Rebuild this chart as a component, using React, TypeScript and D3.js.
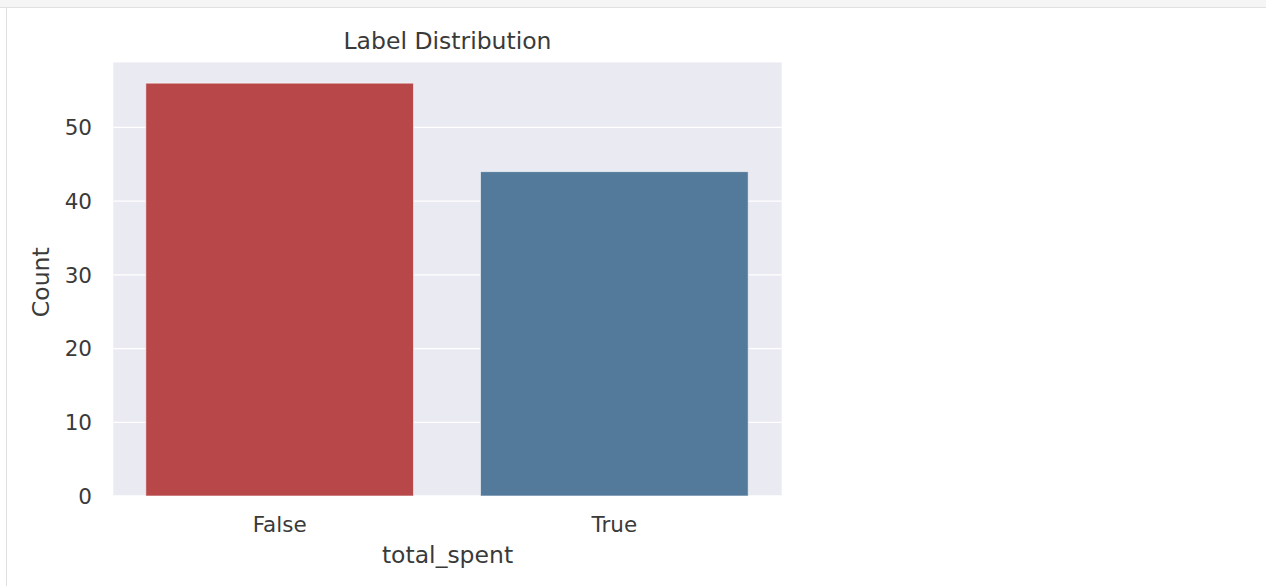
import React from "react";
import * as d3 from "d3";

const categories: string[] = ["False", "True"];
const counts: number[] = [56, 44];
const barColors: string[] = ["#b8474a", "#537a9b"];
const yTicks: number[] = [0, 10, 20, 30, 40, 50];
const title = "Label Distribution";
const xLabel = "total_spent";
const yLabel = "Count";

const W = 1266;
const H = 586;
const plot = { left: 113.3, right: 781.7, top: 62.5, bottom: 496 };
const FONT = "'DejaVu Sans', sans-serif";
const TEXT = "#3a3a3a";

export default function App() {
  const x = d3
    .scaleBand<string>()
    .domain(categories)
    .range([plot.left - 1, plot.right])
    .paddingInner(0.2)
    .paddingOuter(0.1);
  const y = d3.scaleLinear().domain([0, 58.8]).range([plot.bottom, plot.top]);

  return (
    <svg
      width={W}
      height={H}
      style={{ position: "absolute", left: 0, top: 0, background: "#fff" }}
    >
      {/* notebook frame */}
      <rect x={0} y={0} width={W} height={7} fill="#f5f5f5" />
      <line x1={0} x2={W} y1={7.5} y2={7.5} stroke="#e0e0e0" />
      <line x1={6.5} x2={6.5} y1={7} y2={H} stroke="#e0e0e0" />

      {/* axes background */}
      <rect
        x={plot.left}
        y={plot.top}
        width={plot.right - plot.left}
        height={plot.bottom - plot.top}
        fill="#eaeaf2"
      />
      {yTicks.map((t) => (
        <line
          key={"g" + t}
          x1={plot.left}
          x2={plot.right}
          y1={y(t)}
          y2={y(t)}
          stroke="#ffffff"
          strokeWidth={1.3}
        />
      ))}

      {categories.map((c, i) => (
        <rect
          key={c}
          x={x(c)!}
          y={y(counts[i])}
          width={x.bandwidth()}
          height={y(0) - y(counts[i])}
          fill={barColors[i]}
          stroke="#ffffff"
          strokeOpacity={0.6}
          strokeWidth={1}
        />
      ))}

      {/* y tick labels */}
      {yTicks.map((t) => (
        <text
          key={"t" + t}
          x={92}
          y={y(t)}
          dy="0.36em"
          textAnchor="end"
          fontFamily={FONT}
          fontSize={21.5}
          fill={TEXT}
        >
          {t}
        </text>
      ))}

      {/* x tick labels */}
      {categories.map((c) => (
        <text
          key={"x" + c}
          x={x(c)! + x.bandwidth() / 2}
          y={531.5}
          textAnchor="middle"
          fontFamily={FONT}
          fontSize={21.5}
          fill={TEXT}
        >
          {c}
        </text>
      ))}

      <text
        x={(plot.left + plot.right) / 2}
        y={563}
        textAnchor="middle"
        fontFamily={FONT}
        fontSize={23.5}
        fill={TEXT}
      >
        {xLabel}
      </text>
      <text
        transform={`translate(49, ${(plot.top + plot.bottom) / 2 + 3}) rotate(-90)`}
        textAnchor="middle"
        fontFamily={FONT}
        fontSize={23.5}
        fill={TEXT}
      >
        {yLabel}
      </text>
      <text
        x={(plot.left + plot.right) / 2}
        y={49}
        textAnchor="middle"
        fontFamily={FONT}
        fontSize={23.5}
        fill={TEXT}
      >
        {title}
      </text>
    </svg>
  );
}
